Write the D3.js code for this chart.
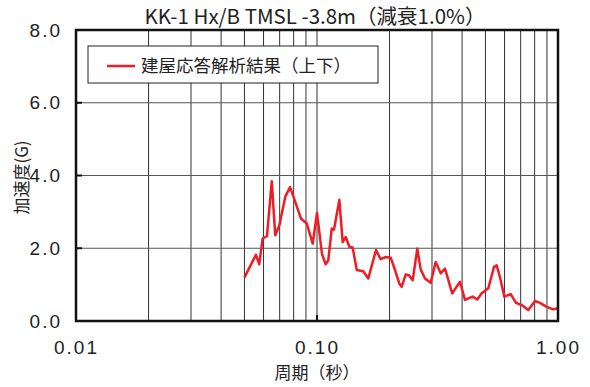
<!DOCTYPE html>
<html>
<head>
<meta charset="utf-8">
<script src="https://cdn.jsdelivr.net/npm/d3@7"></script>
<style>
  body { margin: 0; background: #fff; }
  text { font-family: "Noto Sans CJK JP", "Noto Sans", sans-serif; fill: #222; }
  .num { font-family: "Liberation Sans Narrow", "DejaVu Sans Condensed", sans-serif; letter-spacing: 2px; }
</style>
</head>
<body>
<svg id="chart" width="590" height="387"></svg>
<script>
const periods = [0.050, 0.0558, 0.0576, 0.0595, 0.062, 0.0649, 0.0671, 0.0698, 0.0739, 0.0773,
  0.0813, 0.0859, 0.0907, 0.096, 0.100, 0.1049, 0.1086, 0.1114, 0.1151, 0.1176,
  0.1238, 0.1278, 0.1316, 0.1362, 0.1406, 0.1462, 0.1556, 0.1633, 0.1703, 0.1757,
  0.1837, 0.1933, 0.2022, 0.2108, 0.2196, 0.2246, 0.2334, 0.2407, 0.2495, 0.2607,
  0.2693, 0.2806, 0.2963, 0.3108, 0.3261, 0.3397, 0.364, 0.392, 0.4112, 0.4246,
  0.4427, 0.4624, 0.4826, 0.5139, 0.5427, 0.5566, 0.5743, 0.5988, 0.6364, 0.6694,
  0.707, 0.7529, 0.8029, 0.842, 0.898, 0.956, 1.0];
const accel = [1.20, 1.82, 1.56, 2.27, 2.33, 3.84, 2.36, 2.63, 3.42, 3.68,
  3.27, 2.81, 2.68, 2.13, 2.97, 1.84, 1.56, 1.67, 2.54, 2.51,
  3.33, 2.17, 2.31, 2.04, 2.02, 1.40, 1.37, 1.17, 1.62, 1.95,
  1.70, 1.76, 1.74, 1.40, 1.03, 0.94, 1.28, 1.26, 1.12, 1.99,
  1.42, 1.17, 1.05, 1.62, 1.31, 1.44, 0.76, 1.08, 0.58, 0.62,
  0.67, 0.59, 0.76, 0.90, 1.49, 1.53, 1.21, 0.67, 0.74, 0.50,
  0.44, 0.30, 0.55, 0.50, 0.39, 0.32, 0.35];
const xTickValues = [0.01, 0.1, 1];
const xTickLabels = ['0.01', '0.10', '1.00'];
const yTickValues = [0, 2, 4, 6, 8];
const yTickLabels = ['0.0', '2.0', '4.0', '6.0', '8.0'];
const title = 'KK-1 Hx/B TMSL -3.8m（減衰1.0%）';
const seriesName = '建屋応答解析結果（上下）';
const xTitle = '周期（秒）';
const yTitle = '加速度(G)';

const margin = { top: 30, right: 32, bottom: 66, left: 76 };
const width = 590 - margin.left - margin.right;
const height = 387 - margin.top - margin.bottom;

const svg = d3.select('#chart');
const g = svg.append('g')
  .attr('transform', `translate(${margin.left},${margin.top})`);

const x = d3.scaleLog().domain([0.01, 1]).range([0, width]);
const y = d3.scaleLinear().domain([0, 8]).range([height, 0]);

// minor grid: 2..9 per decade
const gridX = [];
[0.01, 0.1].forEach(d => { for (let k = 2; k <= 9; k += 1) gridX.push(d * k); });
gridX.push(0.1);

g.selectAll('.vgrid')
  .data(gridX)
  .enter().append('line')
    .attr('x1', d => x(d)).attr('x2', d => x(d))
    .attr('y1', 0).attr('y2', height)
    .attr('stroke', '#333').attr('stroke-width', 1);

g.selectAll('.hgrid')
  .data([2, 4, 6])
  .enter().append('line')
    .attr('x1', 0).attr('x2', width)
    .attr('y1', d => y(d)).attr('y2', d => y(d))
    .attr('stroke', '#555').attr('stroke-width', 1);

// small inner ticks
g.selectAll('.ytick')
  .data([2, 4, 6])
  .enter().append('line')
    .attr('x1', 0).attr('x2', 6)
    .attr('y1', d => y(d)).attr('y2', d => y(d))
    .attr('stroke', '#111').attr('stroke-width', 2);
g.append('line')
  .attr('x1', x(0.1)).attr('x2', x(0.1))
  .attr('y1', height).attr('y2', height - 6)
  .attr('stroke', '#111').attr('stroke-width', 2);

// legend box (white, covers grid)
const legend = g.append('g').attr('transform', 'translate(12,16)');
legend.append('rect')
  .attr('width', 290).attr('height', 37)
  .attr('fill', '#fff').attr('stroke', '#222').attr('stroke-width', 1);
legend.append('line')
  .attr('x1', 19).attr('x2', 47).attr('y1', 20).attr('y2', 20)
  .attr('stroke', '#ee1c25').attr('stroke-width', 2.5);
legend.append('text')
  .attr('x', 53).attr('y', 26)
  .style('font-size', '17.5px')
  .text(seriesName);

// series
const line = d3.line()
  .x(d => x(d[0]))
  .y(d => y(d[1]));
g.append('path')
  .datum(d3.zip(periods, accel))
  .attr('fill', 'none')
  .attr('stroke', '#ee1c25')
  .attr('stroke-width', 2.5)
  .attr('stroke-linejoin', 'round')
  .attr('d', line);

// frame
g.append('rect')
  .attr('width', width).attr('height', height)
  .attr('fill', 'none').attr('stroke', '#111').attr('stroke-width', 2.5);

// axes labels via d3 axes without lines
const xAxis = d3.axisBottom(x).tickValues(xTickValues)
  .tickFormat((d, i) => xTickLabels[i]).tickSize(0).tickPadding(20);
g.append('g')
  .attr('transform', `translate(0,${height})`)
  .call(xAxis)
  .call(a => a.select('.domain').remove())
  .selectAll('text')
    .attr('class', 'num')
    .style('font-size', '19px')
    .style('font-family', '"Liberation Sans Narrow", sans-serif')
    .attr('fill', '#222');

const yAxis = d3.axisLeft(y).tickValues(yTickValues)
  .tickFormat((d, i) => yTickLabels[i]).tickSize(0).tickPadding(14);
g.append('g')
  .call(yAxis)
  .call(a => a.select('.domain').remove())
  .selectAll('text')
    .attr('class', 'num')
    .style('font-size', '19px')
    .style('font-family', '"Liberation Sans Narrow", sans-serif')
    .attr('fill', '#222');

svg.append('text')
  .attr('x', margin.left + width / 2 - 2).attr('y', 24)
  .attr('text-anchor', 'middle')
  .style('font-size', '20.5px')
  .text(title);

svg.append('text')
  .attr('x', margin.left + width / 2).attr('y', 379)
  .attr('text-anchor', 'middle')
  .style('font-size', '17px')
  .text(xTitle);

svg.append('text')
  .attr('transform', `translate(28,${margin.top + height / 2 + 2}) rotate(-90)`)
  .attr('text-anchor', 'middle')
  .style('font-size', '17px')
  .text(yTitle);
</script>
</body>
</html>
